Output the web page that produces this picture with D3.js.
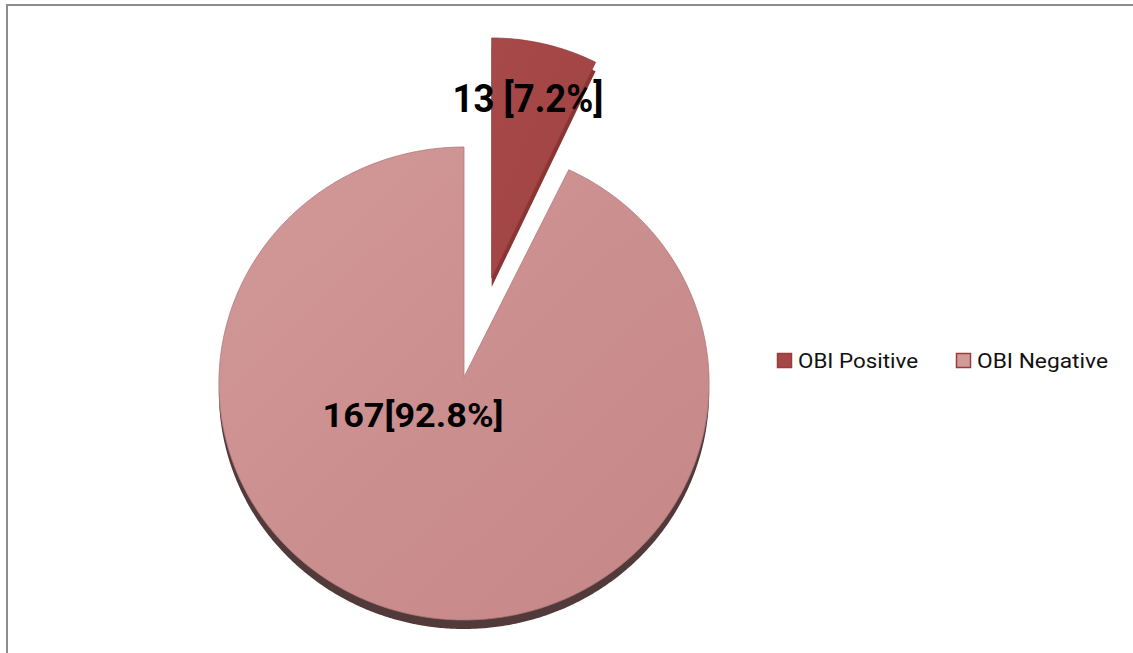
<!DOCTYPE html>
<html>
<head>
<meta charset="utf-8">
<script src="https://cdn.jsdelivr.net/npm/d3@7"></script>
<style>
  html, body { margin: 0; padding: 0; background: #fff; }
  svg { display: block; }
</style>
</head>
<body>
<svg id="chart" width="1133" height="653"></svg>
<script>
// ---- data ----
const categories = ["OBI Positive", "OBI Negative"];
const counts = [13, 167];
const percents = ["7.2%", "92.8%"];
const dataLabels = ["13 [7.2%]", "167[92.8%]"];
const sliceColors = ["#a54747", "#ca8c8c"];
const exploded = [true, false];

const W = 1133, H = 653;
const svg = d3.select("#chart");

// frame
svg.append("rect").attr("x", 7).attr("y", 5).attr("width", W + 20).attr("height", H + 20)
  .attr("fill", "#fff").attr("stroke", "#8c8c8c").attr("stroke-width", 2);

const defs = svg.append("defs");
const g1 = defs.append("linearGradient").attr("id", "gNeg")
  .attr("x1", "0%").attr("y1", "0%").attr("x2", "100%").attr("y2", "100%");
g1.append("stop").attr("offset", "0%").attr("stop-color", "#d29898");
g1.append("stop").attr("offset", "100%").attr("stop-color", "#c58686");
const g2 = defs.append("linearGradient").attr("id", "gPos")
  .attr("x1", "0%").attr("y1", "0%").attr("x2", "100%").attr("y2", "100%");
g2.append("stop").attr("offset", "0%").attr("stop-color", "#a84949");
g2.append("stop").attr("offset", "100%").attr("stop-color", "#a04343");
const fills = ["url(#gPos)", "url(#gNeg)"];
const sideColors = ["#8a3434", "#523a3a"];

const pie = d3.pie().sort(null).value(d => d).startAngle(0).endAngle(2 * Math.PI);
const arcs = pie(counts);

// projection geometry (slightly tilted pie)
const cx = 464, cy = 377;
const main = { rx: 245, ry: 236.3, t: 0.0275 };
const expl = { rx: 237, ry: 240, t: 0 };
const explodeDist = 0.43;

function project(a, r, p, ox, oy, vx, vy) {
  const ux = r * Math.sin(a), uy = -r * Math.cos(a);
  const d = 1 - p.t * uy;
  return [vx + p.rx * ux / d + ox, vy + p.ry * uy / d + oy];
}

function slicePoints(arc, p, vx, vy, dy) {
  const n = Math.max(8, Math.ceil((arc.endAngle - arc.startAngle) * 120));
  const pts = [[vx, vy + dy]];
  d3.range(n + 1).forEach(i => {
    const a = arc.startAngle + (arc.endAngle - arc.startAngle) * i / n;
    pts.push(project(a, 1, p, 0, dy, vx, vy));
  });
  return pts;
}
const line = d3.line().curve(d3.curveLinearClosed);

const layers = arcs.map((arc, i) => {
  const mid = (arc.startAngle + arc.endAngle) / 2;
  let vx = cx, vy = cy, p = main;
  if (exploded[i]) {
    vx = cx + main.rx * explodeDist * Math.sin(mid) + 4;
    vy = cy - main.ry * explodeDist * Math.cos(mid);
    p = expl;
  }
  return { arc, i, vx, vy, p };
});

// side faces (thickness)
layers.forEach(L => {
  svg.append("path").attr("d", line(slicePoints(L.arc, L.p, L.vx, L.vy, 9)))
    .attr("fill", sideColors[L.i]);
});
// top faces
layers.forEach(L => {
  svg.append("path").attr("d", line(slicePoints(L.arc, L.p, L.vx, L.vy, 0)))
    .attr("fill", fills[L.i])
    .attr("stroke", d3.color(sliceColors[L.i]).darker(0.4))
    .attr("stroke-width", 0.8);
});

// data labels
const labelPos = [
  { x: 528, y: 112, size: 38, len: 151 },
  { x: 413, y: 427, size: 34, len: 181 }
];
dataLabels.forEach((t, i) => {
  svg.append("text")
    .attr("x", labelPos[i].x).attr("y", labelPos[i].y)
    .attr("text-anchor", "middle")
    .attr("font-family", "Roboto, 'Liberation Sans', sans-serif")
    .attr("font-weight", "bold")
    .attr("font-size", labelPos[i].size)
    .attr("textLength", labelPos[i].len)
    .attr("lengthAdjust", "spacingAndGlyphs")
    .attr("fill", "#000")
    .text(t);
});

// legend
const legendX = d3.scaleOrdinal().domain(categories).range([777, 956]);
const legendTextLen = [120, 131];
const legendFills = ["#a54747", "#d39a9a"];
categories.forEach((c, i) => {
  const x = legendX(c);
  svg.append("rect").attr("x", x + 0.5).attr("y", 353.5).attr("width", 14).attr("height", 14)
    .attr("fill", legendFills[i]).attr("stroke", "#9a3c3c").attr("stroke-width", 1.5);
  svg.append("text").attr("x", x + 21).attr("y", 368)
    .attr("font-family", "Roboto, 'Liberation Sans', sans-serif")
    .attr("font-size", 20)
    .attr("textLength", legendTextLen[i])
    .attr("lengthAdjust", "spacingAndGlyphs")
    .attr("fill", "#111")
    .text(c);
});
</script>
</body>
</html>
